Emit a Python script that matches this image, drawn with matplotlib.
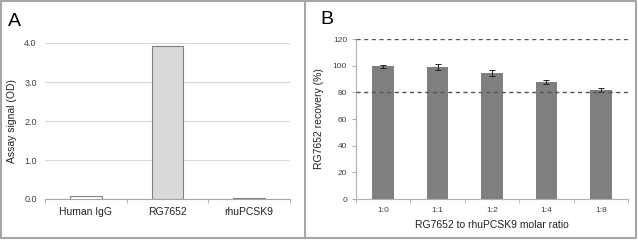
import numpy as np
import matplotlib.pyplot as plt

plt.rcParams['font.family'] = ['Liberation Sans', 'DejaVu Sans']

# Panel A data
a_labels = ['Human IgG', 'RG7652', 'rhuPCSK9']
a_values = [0.07, 3.92, 0.02]
a_colors = ['white', '#d9d9d9', 'white']

# Panel B data
b_labels = ['1:0', '1:1', '1:2', '1:4', '1:8']
b_values = [99.5, 98.7, 94.8, 87.8, 81.8]
b_errors = [1.3, 2.2, 2.3, 1.3, 1.7]
b_limits = [80, 120]

W, H = 638, 240
fig = plt.figure(figsize=(W / 100, H / 100), dpi=100)

# Panel frames
frame = fig.add_axes([0, 0, 1, 1], zorder=-1)
frame.set_xlim(0, W)
frame.set_ylim(H, 0)
frame.axis('off')
fc = '#a6a6a6'
frame.plot([1, 636, 636, 1, 1], [1, 1, 238, 238, 1], color=fc, lw=1.5)
frame.plot([305, 305], [1, 238], color=fc, lw=1.5)


def px_axes(x0, y0, x1, y1):
    return fig.add_axes([x0 / W, 1 - y1 / H, (x1 - x0) / W, (y1 - y0) / H])


tick_col = '#404040'

# ---- Panel A ----
ax = px_axes(45, 43, 290, 199)
x = np.arange(len(a_labels))
ax.bar(x, a_values, width=0.39, color=a_colors, edgecolor='#808080', linewidth=0.8, zorder=3)
ax.set_xlim(-0.5, len(a_labels) - 0.5)
ax.set_ylim(0, 4)
ax.set_yticks([0, 1, 2, 3, 4])
ax.set_yticklabels(['0.0', '1.0', '2.0', '3.0', '4.0'])
ax.yaxis.grid(True, color='#d9d9d9', lw=0.8)
ax.set_axisbelow(True)
for s in ['top', 'right', 'left']:
    ax.spines[s].set_visible(False)
ax.spines['bottom'].set_color('#a6a6a6')
ax.set_xticks(x)
ax.set_xticklabels(a_labels, fontsize=7.5, color='#222222')
ax.set_xticks(np.arange(-0.5, len(a_labels)), minor=True)
ax.tick_params(axis='x', which='major', length=0, pad=6)
ax.tick_params(axis='x', which='minor', length=3, color='#a6a6a6')
ax.tick_params(axis='y', length=0, labelsize=6.5, labelcolor=tick_col, pad=6)
ax.set_ylabel('Assay signal (OD)', fontsize=7.5, color='#222222', labelpad=5)
fig.text(8 / W, 1 - 21 / H, 'A', fontsize=14, va='center', ha='left')

# ---- Panel B ----
bx = px_axes(356, 39, 628, 199)
xb = np.arange(len(b_labels))
bx.bar(xb, b_values, width=0.4, color='#7f7f7f', zorder=2,
       yerr=b_errors, error_kw=dict(ecolor='#222222', elinewidth=0.7, capsize=2, capthick=0.7))
for lim in b_limits:
    bx.axhline(lim, color='#555555', lw=1.0, ls=(0, (3, 2.5)), zorder=3)
bx.set_xlim(-0.5, len(b_labels) - 0.5)
bx.set_ylim(0, 120)
bx.set_yticks(range(0, 121, 20))
for s in ['top', 'right']:
    bx.spines[s].set_visible(False)
bx.spines['left'].set_color('#b0b0b0')
bx.spines['bottom'].set_color('#b0b0b0')
bx.set_xticks(xb)
bx.set_xticklabels(b_labels)
bx.set_xticks(np.arange(-0.5, len(b_labels)), minor=True)
bx.tick_params(axis='x', which='major', length=0, labelsize=6, labelcolor=tick_col, pad=6)
bx.tick_params(axis='x', which='minor', length=3, color='#b0b0b0')
bx.tick_params(axis='y', length=3, color='#b0b0b0', labelsize=6, labelcolor=tick_col)
bx.set_ylabel('RG7652 recovery (%)', fontsize=7.5, color='#222222', labelpad=6)
bx.set_xlabel('RG7652 to rhuPCSK9 molar ratio', fontsize=7.5, color='#222222', labelpad=4)
fig.text(320 / W, 1 - 19 / H, 'B', fontsize=14, va='center', ha='left')

fig.savefig('out.png', dpi=100)
